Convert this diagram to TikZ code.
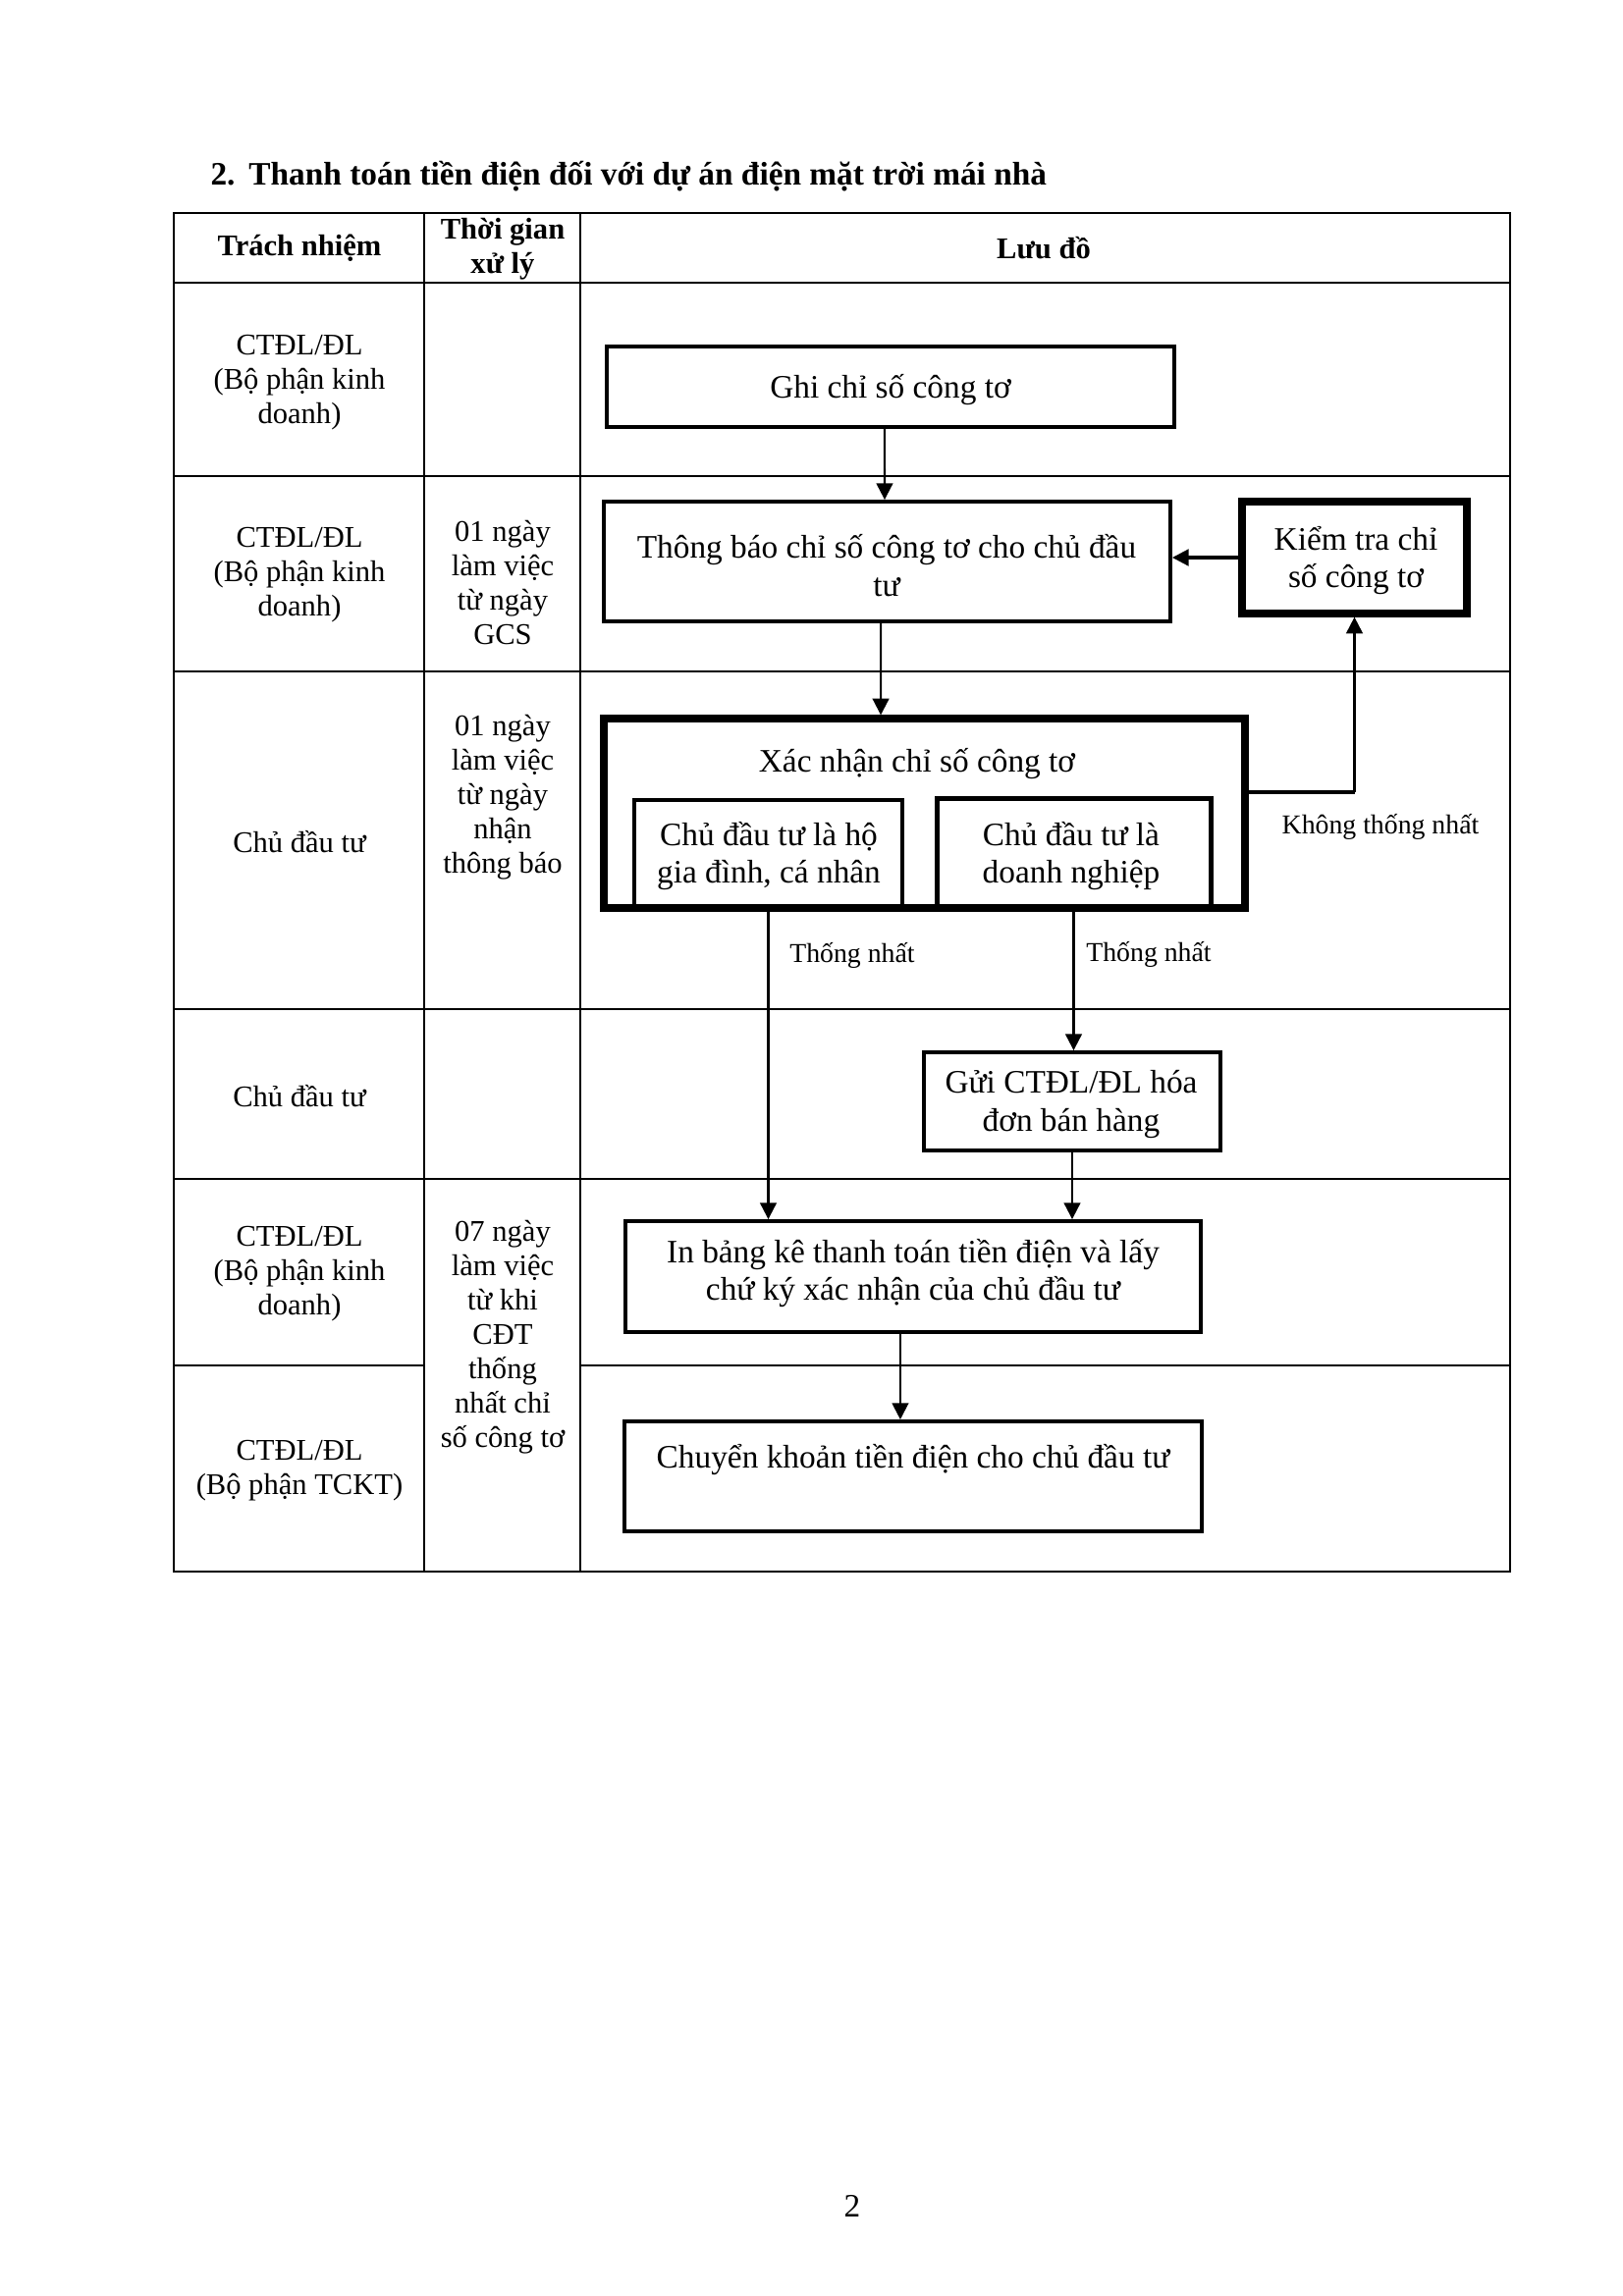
\documentclass[tikz,border=0pt]{standalone}
\usepackage{fontspec}
\setmainfont{Liberation Serif}
\usetikzlibrary{arrows.meta,fit,calc}
\tikzset{
  tline/.style={line width=0.75pt},
  box/.style={draw, line width=1.4pt, inner sep=0pt},
  arr/.style={line width=0.75pt, -{Triangle[length=6pt,width=6pt]}},
  cell/.style={align=center, inner sep=0pt, font=\fontsize{11}{12.6}\selectfont},
  hdr/.style={align=center, inner sep=0pt, font=\fontsize{11}{12.6}\selectfont\bfseries},
  lbl/.style={inner sep=0pt, font=\fontsize{10}{12}\selectfont},
  btxt/.style={inner sep=0pt, align=center, font=\fontsize{12}{13.8}\selectfont},
}
\begin{document}
\begin{tikzpicture}[x=0.36pt,y=-0.36pt]
\useasboundingbox (0,0) rectangle (1653,2339);
% title
\node[anchor=base west, inner sep=0pt, font=\fontsize{12}{14}\selectfont\bfseries] (title) at (214,188) {2.\hspace{5pt}Thanh toán tiền điện đối với dự án điện mặt trời mái nhà};
% table
\draw[tline] (177,217) rectangle (1538,1601);
\draw[tline] (432,217) -- (432,1601);
\draw[tline] (591,217) -- (591,1601);
\draw[tline] (177,288) -- (1538,288);
\draw[tline] (177,485) -- (1538,485);
\draw[tline] (177,684) -- (1538,684);
\draw[tline] (177,1028) -- (1538,1028);
\draw[tline] (177,1201) -- (1538,1201);
\draw[tline] (177,1391) -- (432,1391);
\draw[tline] (591,1391) -- (1538,1391);
% headers
\node[hdr] (h1) at (305,253) {Trách nhiệm};
\node[hdr] (h2) at (512,254) {Thời gian\\xử lý};
\node[hdr] (h3) at (1063,253) {Lưu đồ};
% left column
\node[cell] (r1) at (305,390) {CTĐL/ĐL\\(Bộ phận kinh\\doanh)};
\node[cell] (r2) at (305,586) {CTĐL/ĐL\\(Bộ phận kinh\\doanh)};
\node[cell] (r3) at (305,858) {Chủ đầu tư};
\node[cell] (r4) at (305,1117) {Chủ đầu tư};
\node[cell] (r5) at (305,1298) {CTĐL/ĐL\\(Bộ phận kinh\\doanh)};
\node[cell] (r6) at (305,1498) {CTĐL/ĐL\\(Bộ phận TCKT)};
% time column
\node[cell] (t2) at (512,594) {01 ngày\\làm việc\\từ ngày\\GCS};
\node[cell] (t3) at (512,812) {01 ngày\\làm việc\\từ ngày\\nhận\\thông báo};
\node[cell] (t5) at (512,1362) {07 ngày\\làm việc\\từ khi\\CĐT\\thống\\nhất chỉ\\số công tơ};
% flow boxes
\node[box, fit={(618,353) (1196,435)}] (ghi) {};
\node[btxt] (ghit) at (907,397) {Ghi chỉ số công tơ};
\node[box, fit={(615,511) (1192,633)}] (thong) {};
\node[btxt] (thongt) at (903,576) {Thông báo chỉ số công tơ cho chủ đầu\\tư};
\node[box, line width=2.6pt, fit={(1265,511) (1494,625)}] (kiem) {};
\node[btxt] (kiemt) at (1381,571) {Kiểm tra chỉ\\số công tơ};
\node[box, line width=1.2pt, fit={(646,815) (919,925)}] (in1) {};
\node[btxt] (in1t) at (783,872) {Chủ đầu tư là hộ\\gia đình, cá nhân};
\node[box, line width=1.8pt, fit={(954,813) (1233,925)}] (in2) {};
\node[btxt] (in2t) at (1091,872) {Chủ đầu tư là\\doanh nghiệp};
\node[box, line width=2.6pt, fit={(615,732) (1268,925)}] (xac) {};
\node[btxt] (xact) at (934,778) {Xác nhận chỉ số công tơ};
\node[box, fit={(941,1072) (1243,1172)}] (gui) {};
\node[btxt] (guit) at (1091,1125) {Gửi CTĐL/ĐL hóa\\đơn bán hàng};
\node[box, fit={(637,1244) (1223,1357)}] (inbang) {};
\node[btxt] (inbangt) at (930,1297) {In bảng kê thanh toán tiền điện và lấy\\chứ ký xác nhận của chủ đầu tư};
\node[box, fit={(636,1448) (1224,1560)}] (chuyen) {};
\node[btxt] (chuyent) at (930,1487) {Chuyển khoản tiền điện cho chủ đầu tư};
% connectors
\draw[arr] ([xshift=-2.2pt]ghi.south) -- ([xshift=-0.9pt]thong.north);
\draw[arr] ([xshift=-2.3pt]thong.south) -- ([xshift=-16.0pt]xac.north);
\draw[arr, line width=1.1pt] (kiem.west) -- (kiem.west -| thong.east);
\coordinate (kb) at ([yshift=7.7pt]xac.east);
\draw[line width=1.4pt] (kb) -- (kb -| kiem.south);
\draw[arr] (kb -| kiem.south) -- (kiem.south);
\draw[arr] (in1.south) -- (in1.south |- inbang.north);
\draw[arr] (in2.south) -- (in2.south |- gui.north);
\draw[arr] (gui.south) -- (gui.south |- inbang.north);
\draw[arr] ([xshift=-4.7pt]inbang.south) -- ([xshift=-4.7pt]chuyen.north);
% labels
\node[lbl] (l1) at (1406,842) {Không thống nhất};
\node[lbl] (l2) at (868,973) {Thống nhất};
\node[lbl] (l3) at (1170,972) {Thống nhất};
% page number
\node[anchor=base, inner sep=0pt, font=\fontsize{12}{14}\selectfont] (pg) at (868,2258) {2};
\end{tikzpicture}
\end{document}
